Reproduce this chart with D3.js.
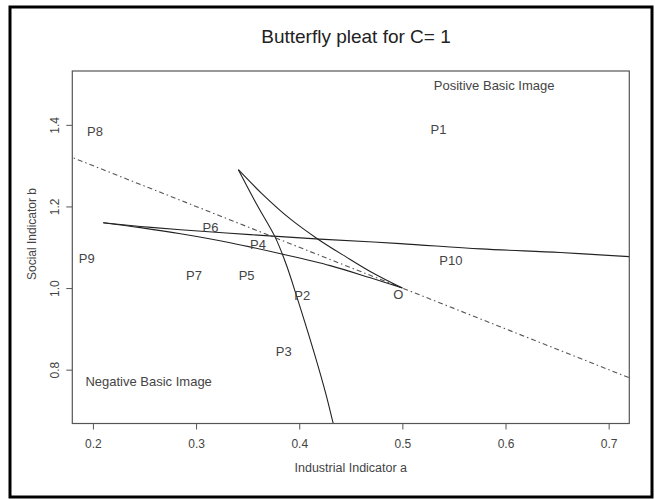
<!DOCTYPE html>
<html>
<head>
<meta charset="utf-8">
<script src="https://cdn.jsdelivr.net/npm/d3@7"></script>
<style>
  body { margin: 0; background: #fff; }
  text { font-family: "Liberation Sans", Arial, sans-serif; }
</style>
</head>
<body>
<svg id="chart" width="655" height="499"></svg>
<script>
// ---------- data ----------
const title = "Butterfly pleat for C= 1";
const xLabel = "Industrial Indicator a";
const yLabel = "Social Indicator b";
const xTicks = [0.2, 0.3, 0.4, 0.5, 0.6, 0.7];
const yTicks = [0.8, 1.0, 1.2, 1.4];

// branch from bottom edge up to the upper-left cusp
const branchDown = [
  [0.436, 0.640], [0.433, 0.668], [0.426, 0.739], [0.415, 0.837],
  [0.397, 0.984], [0.3875, 1.057], [0.377, 1.123], [0.359, 1.204], [0.341, 1.290]
];
// curved branch from upper-left cusp to O
const branchUpper = [
  [0.341, 1.290], [0.364, 1.231], [0.391, 1.170], [0.4175, 1.121],
  [0.445, 1.077], [0.471, 1.0375], [0.500, 1.000]
];
// branch from O back to the left cusp
const branchLower = [
  [0.500, 1.000], [0.469, 1.025], [0.430, 1.055], [0.382, 1.084],
  [0.333, 1.111], [0.285, 1.133], [0.246, 1.148], [0.210, 1.160]
];
// branch from the left cusp out to the right edge
const branchRight = [
  [0.210, 1.160], [0.246, 1.151], [0.285, 1.143], [0.3525, 1.131],
  [0.420, 1.120], [0.498, 1.109], [0.576, 1.096], [0.653, 1.087], [0.720, 1.077], [0.730, 1.076]
];
// dash-dot tangent line through O
const tangentLine = [[0.17, 1.33], [0.73, 0.77]];

const labels = [
  { t: "Positive Basic Image", x: 0.589, y: 1.496 },
  { t: "P8", x: 0.202, y: 1.385 },
  { t: "P1", x: 0.535, y: 1.388 },
  { t: "P6", x: 0.314, y: 1.149 },
  { t: "P4", x: 0.360, y: 1.107 },
  { t: "P9", x: 0.194, y: 1.072 },
  { t: "P7", x: 0.298, y: 1.030 },
  { t: "P5", x: 0.349, y: 1.030 },
  { t: "P10", x: 0.547, y: 1.067 },
  { t: "P2", x: 0.403, y: 0.981 },
  { t: "O", x: 0.496, y: 0.984 },
  { t: "P3", x: 0.385, y: 0.844 },
  { t: "Negative Basic Image", x: 0.254, y: 0.771 }
];

// ---------- layout ----------
const svg = d3.select("#chart");
const L = 72.3, R = 629.3, T = 71, B = 423.5;
const x = d3.scaleLinear().domain([0.18, 0.72]).range([L, R]);
const y = d3.scaleLinear().domain([0.668, 1.532]).range([B, T]);

// outer frame
svg.append("rect").attr("x", 10).attr("y", 7).attr("width", 642).attr("height", 490)
  .attr("fill", "none").attr("stroke", "#000").attr("stroke-width", 3);

svg.append("defs").append("clipPath").attr("id", "clip")
  .append("rect").attr("x", L).attr("y", T).attr("width", R - L).attr("height", B - T);

const line = d3.line().x(d => x(d[0])).y(d => y(d[1])).curve(d3.curveCatmullRom.alpha(0.5));
const g = svg.append("g").attr("clip-path", "url(#clip)");

g.append("path").datum(tangentLine).attr("d", d3.line().x(d => x(d[0])).y(d => y(d[1])))
  .attr("fill", "none").attr("stroke", "#555").attr("stroke-width", 1.1)
  .attr("stroke-dasharray", "1.5,3,5,3");

[branchDown, branchUpper, branchLower, branchRight].forEach(b => {
  g.append("path").datum(b).attr("d", line)
    .attr("fill", "none").attr("stroke", "#222").attr("stroke-width", 1.1);
});

// box
svg.append("rect").attr("x", L).attr("y", T).attr("width", R - L).attr("height", B - T)
  .attr("fill", "none").attr("stroke", "#555").attr("stroke-width", 1.2);

// axes
const xAxis = svg.append("g").attr("transform", `translate(0,${B})`)
  .call(d3.axisBottom(x).tickValues(xTicks).tickSize(6).tickPadding(10).tickFormat(d3.format(".1f")));
xAxis.select(".domain").remove();
xAxis.selectAll("line").attr("stroke", "#555");
xAxis.selectAll("text").attr("font-size", 12).attr("fill", "#444")
  .attr("font-family", "Liberation Sans, Arial, sans-serif");

const yAxis = svg.append("g").attr("transform", `translate(${L},0)`)
  .call(d3.axisLeft(y).tickValues(yTicks).tickSize(6).tickFormat(d3.format(".1f")));
yAxis.select(".domain").remove();
yAxis.selectAll("line").attr("stroke", "#555");
yAxis.selectAll("text").attr("font-size", 12).attr("fill", "#444")
  .attr("font-family", "Liberation Sans, Arial, sans-serif")
  .attr("text-anchor", "middle").attr("transform", "rotate(-90)")
  .attr("x", 0).attr("y", -13).attr("dy", 0);

// titles
svg.append("text").attr("x", 356).attr("y", 43).attr("text-anchor", "middle")
  .attr("font-size", 19).attr("fill", "#222").text(title);
svg.append("text").attr("x", (L + R) / 2).attr("y", 472).attr("text-anchor", "middle")
  .attr("font-size", 12.5).attr("fill", "#444").text(xLabel);
svg.append("text").attr("transform", "translate(36,234) rotate(-90)").attr("text-anchor", "middle")
  .attr("font-size", 12).attr("fill", "#444").text(yLabel);

// point labels
svg.append("g").selectAll("text").data(labels).join("text")
  .attr("x", d => x(d.x)).attr("y", d => y(d.y)).attr("dy", "0.35em")
  .attr("text-anchor", "middle").attr("font-size", 13).attr("fill", "#444")
  .text(d => d.t);
</script>
</body>
</html>
